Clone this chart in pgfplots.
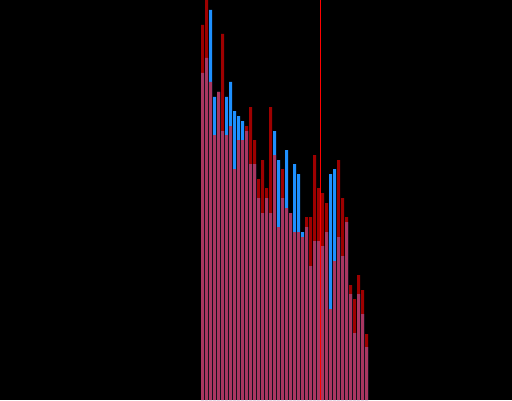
\documentclass[border=0pt]{standalone}
\usepackage{pgfplots}
\usepackage{pgfplotstable}
\pgfplotsset{compat=1.18}

\definecolor{barblue}{RGB}{30,144,255}
\definecolor{barred}{RGB}{255,0,0}

% bar centre (px from left), red height, blue height (px from bottom)
\pgfplotstableread{
x     red  blue
202.5 375  327
206.5 410  342
210.5 318  390
214.5 265  303
218.5 308  308
222.5 366  269
226.5 265  303
230.5 274  318
234.5 231  289
238.5 260  284
242.5 260  279
246.5 274  269
250.5 293  236
254.5 260  236
258.5 221  202
262.5 240  187
266.5 212  202
270.5 293  187
274.5 245  269
278.5 173  240
282.5 231  202
286.5 192  250
290.5 187  187
294.5 168  236
298.5 168  226
302.5 163  168
306.5 183  173
310.5 183  134
314.5 245  159
318.5 212  159
322.5 207  154
326.5 197  168
330.5  91  226
334.5 139  231
338.5 240  163
342.5 202  144
346.5 183  178
350.5 115  106
354.5 101   67
358.5 125  106
362.5 110   86
366.5  66   53
}\bars

\begin{document}
\begin{tikzpicture}
\begin{axis}[
  scale only axis,
  width=512pt, height=400pt,
  xmin=0, xmax=512, ymin=0, ymax=400,
  axis background/.style={fill=black},
  axis line style={draw=none},
  xtick=\empty, ytick=\empty,
  clip=true,
]
\addplot[ybar, bar width=3, bar shift=0pt, fill=barblue, draw=none] table[x=x, y=blue] {\bars};
\addplot[ybar, bar width=3, bar shift=0pt, fill=barred, fill opacity=0.62, draw=none] table[x=x, y=red] {\bars};
\addplot[barred, line width=1pt] coordinates {(320.5,0) (320.5,400)};
\end{axis}
\end{tikzpicture}
\end{document}
